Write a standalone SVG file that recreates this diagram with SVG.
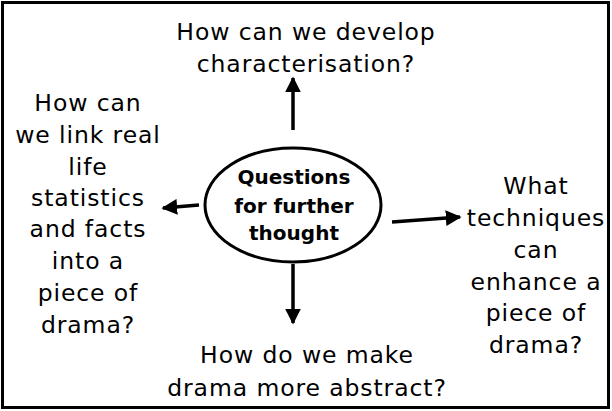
<svg xmlns="http://www.w3.org/2000/svg" width="612" height="411" viewBox="0 0 612 411">
<style>
.q{font-family:"DejaVu Sans","Liberation Sans",sans-serif;font-size:23.5px;letter-spacing:0.9px;fill:#000;text-anchor:middle}
.c{font-family:"DejaVu Sans","Liberation Sans",sans-serif;font-size:20px;font-weight:bold;fill:#000;text-anchor:middle}
.a{stroke:#000;stroke-width:3.5;fill:none;marker-end:url(#ah)}
</style>
<defs>
<marker id="ah" viewBox="0 0 10 10" refX="9" refY="5" markerWidth="4.5" markerHeight="4.5" orient="auto" markerUnits="strokeWidth">
<path d="M0,0 L10,5 L0,10 z" fill="#000"/>
</marker>
</defs>
<rect x="0" y="0" width="612" height="411" fill="#fff"/>
<rect x="2.5" y="2.5" width="606" height="405" fill="none" stroke="#000" stroke-width="3"/>
<g id="connectors">
<line class="a" x1="293" y1="130" x2="293" y2="78"/>
<line class="a" x1="199" y1="205" x2="163" y2="208"/>
<line class="a" x1="392" y1="222" x2="460" y2="217"/>
<line class="a" x1="293" y1="264" x2="293" y2="323"/>
</g>
<g id="center">
<ellipse cx="293" cy="205" rx="88" ry="57" fill="#fff" stroke="#000" stroke-width="3"/>
<text class="c" x="294" y="184">Questions</text>
<text class="c" x="294" y="213">for further</text>
<text class="c" x="294" y="240">thought</text>
</g>
<g id="top">
<text class="q" x="306" y="40">How can we develop</text>
<text class="q" x="306" y="72">characterisation?</text>
</g>
<g id="left">
<text class="q" x="88" y="111">How can</text>
<text class="q" x="88" y="143">we link real</text>
<text class="q" x="88" y="175">life</text>
<text class="q" x="88" y="206">statistics</text>
<text class="q" x="88" y="237">and facts</text>
<text class="q" x="88" y="269">into a</text>
<text class="q" x="88" y="301">piece of</text>
<text class="q" x="88" y="333">drama?</text>
</g>
<g id="right">
<text class="q" x="536" y="194">What</text>
<text class="q" x="536" y="226">techniques</text>
<text class="q" x="536" y="258">can</text>
<text class="q" x="536" y="290">enhance a</text>
<text class="q" x="536" y="321">piece of</text>
<text class="q" x="536" y="353">drama?</text>
</g>
<g id="bottom">
<text class="q" x="307" y="363">How do we make</text>
<text class="q" x="307" y="396">drama more abstract?</text>
</g>
</svg>
